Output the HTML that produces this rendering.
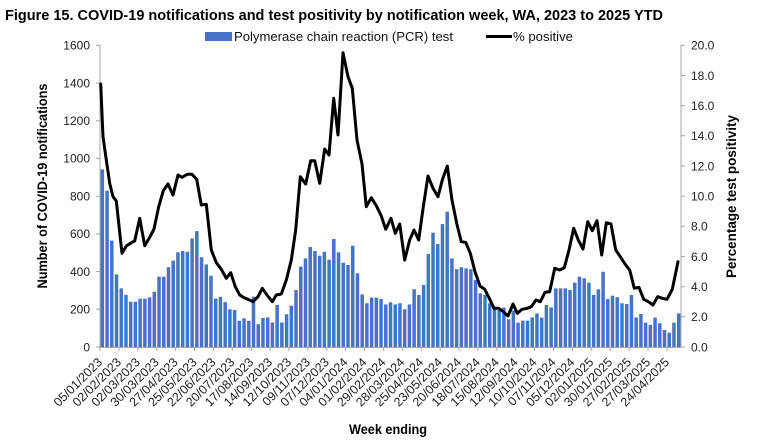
<!DOCTYPE html>
<html><head><meta charset="utf-8"><style>
html,body{margin:0;padding:0;background:#fff;}
svg{display:block;font-family:"Liberation Sans",Arial,sans-serif;}
</style></head><body>
<svg width="780" height="440" viewBox="0 0 780 440" xmlns="http://www.w3.org/2000/svg">
<rect width="780" height="440" fill="#fff"/>
<text x="5" y="20" font-size="14.5" font-weight="bold" textLength="658" lengthAdjust="spacingAndGlyphs" fill="#000">Figure 15. COVID-19 notifications and test positivity by notification week, WA, 2023 to 2025 YTD</text>
<!-- legend -->
<rect x="205" y="32" width="27" height="9" fill="#4673c6"/>
<text x="234" y="41" font-size="13" textLength="219" lengthAdjust="spacingAndGlyphs" fill="#111">Polymerase chain reaction (PCR) test</text>
<line x1="486" y1="36.5" x2="512" y2="36.5" stroke="#000" stroke-width="3"/>
<text x="513" y="41" font-size="13" textLength="60" lengthAdjust="spacingAndGlyphs" fill="#111">% positive</text>
<!-- bars -->
<g transform="translate(100.6,347) scale(4.724,-0.18856)" fill="#4673c6">
<rect x="0" y="0" width="0.74" height="942"/><rect x="1" y="0" width="0.74" height="829"/><rect x="2" y="0" width="0.74" height="564"/><rect x="3" y="0" width="0.74" height="385"/><rect x="4" y="0" width="0.74" height="311"/><rect x="5" y="0" width="0.74" height="276"/><rect x="6" y="0" width="0.74" height="240"/><rect x="7" y="0" width="0.74" height="240"/><rect x="8" y="0" width="0.74" height="256"/><rect x="9" y="0" width="0.74" height="256"/>
<rect x="10" y="0" width="0.74" height="263"/><rect x="11" y="0" width="0.74" height="293"/><rect x="12" y="0" width="0.74" height="373"/><rect x="13" y="0" width="0.74" height="373"/><rect x="14" y="0" width="0.74" height="423"/><rect x="15" y="0" width="0.74" height="458"/><rect x="16" y="0" width="0.74" height="502"/><rect x="17" y="0" width="0.74" height="509"/><rect x="18" y="0" width="0.74" height="505"/><rect x="19" y="0" width="0.74" height="576"/>
<rect x="20" y="0" width="0.74" height="615"/><rect x="21" y="0" width="0.74" height="476"/><rect x="22" y="0" width="0.74" height="438"/><rect x="23" y="0" width="0.74" height="378"/><rect x="24" y="0" width="0.74" height="257"/><rect x="25" y="0" width="0.74" height="266"/><rect x="26" y="0" width="0.74" height="238"/><rect x="27" y="0" width="0.74" height="200"/><rect x="28" y="0" width="0.74" height="196"/><rect x="29" y="0" width="0.74" height="139"/>
<rect x="30" y="0" width="0.74" height="152"/><rect x="31" y="0" width="0.74" height="139"/><rect x="32" y="0" width="0.74" height="267"/><rect x="33" y="0" width="0.74" height="121"/><rect x="34" y="0" width="0.74" height="154"/><rect x="35" y="0" width="0.74" height="157"/><rect x="36" y="0" width="0.74" height="130"/><rect x="37" y="0" width="0.74" height="223"/><rect x="38" y="0" width="0.74" height="130"/><rect x="39" y="0" width="0.74" height="174"/>
<rect x="40" y="0" width="0.74" height="219"/><rect x="41" y="0" width="0.74" height="302"/><rect x="42" y="0" width="0.74" height="426"/><rect x="43" y="0" width="0.74" height="470"/><rect x="44" y="0" width="0.74" height="530"/><rect x="45" y="0" width="0.74" height="509"/><rect x="46" y="0" width="0.74" height="484"/><rect x="47" y="0" width="0.74" height="505"/><rect x="48" y="0" width="0.74" height="463"/><rect x="49" y="0" width="0.74" height="573"/>
<rect x="50" y="0" width="0.74" height="502"/><rect x="51" y="0" width="0.74" height="447"/><rect x="52" y="0" width="0.74" height="435"/><rect x="53" y="0" width="0.74" height="537"/><rect x="54" y="0" width="0.74" height="391"/><rect x="55" y="0" width="0.74" height="279"/><rect x="56" y="0" width="0.74" height="232"/><rect x="57" y="0" width="0.74" height="262"/><rect x="58" y="0" width="0.74" height="262"/><rect x="59" y="0" width="0.74" height="255"/>
<rect x="60" y="0" width="0.74" height="226"/><rect x="61" y="0" width="0.74" height="237"/><rect x="62" y="0" width="0.74" height="226"/><rect x="63" y="0" width="0.74" height="232"/><rect x="64" y="0" width="0.74" height="200"/><rect x="65" y="0" width="0.74" height="226"/><rect x="66" y="0" width="0.74" height="306"/><rect x="67" y="0" width="0.74" height="276"/><rect x="68" y="0" width="0.74" height="329"/><rect x="69" y="0" width="0.74" height="493"/>
<rect x="70" y="0" width="0.74" height="606"/><rect x="71" y="0" width="0.74" height="546"/><rect x="72" y="0" width="0.74" height="652"/><rect x="73" y="0" width="0.74" height="718"/><rect x="74" y="0" width="0.74" height="470"/><rect x="75" y="0" width="0.74" height="413"/><rect x="76" y="0" width="0.74" height="423"/><rect x="77" y="0" width="0.74" height="417"/><rect x="78" y="0" width="0.74" height="412"/><rect x="79" y="0" width="0.74" height="355"/>
<rect x="80" y="0" width="0.74" height="285"/><rect x="81" y="0" width="0.74" height="276"/><rect x="82" y="0" width="0.74" height="232"/><rect x="83" y="0" width="0.74" height="200"/><rect x="84" y="0" width="0.74" height="196"/><rect x="85" y="0" width="0.74" height="209"/><rect x="86" y="0" width="0.74" height="147"/><rect x="87" y="0" width="0.74" height="193"/><rect x="88" y="0" width="0.74" height="129"/><rect x="89" y="0" width="0.74" height="140"/>
<rect x="90" y="0" width="0.74" height="140"/><rect x="91" y="0" width="0.74" height="157"/><rect x="92" y="0" width="0.74" height="178"/><rect x="93" y="0" width="0.74" height="156"/><rect x="94" y="0" width="0.74" height="223"/><rect x="95" y="0" width="0.74" height="210"/><rect x="96" y="0" width="0.74" height="311"/><rect x="97" y="0" width="0.74" height="311"/><rect x="98" y="0" width="0.74" height="311"/><rect x="99" y="0" width="0.74" height="302"/>
<rect x="100" y="0" width="0.74" height="341"/><rect x="101" y="0" width="0.74" height="373"/><rect x="102" y="0" width="0.74" height="364"/><rect x="103" y="0" width="0.74" height="341"/><rect x="104" y="0" width="0.74" height="276"/><rect x="105" y="0" width="0.74" height="306"/><rect x="106" y="0" width="0.74" height="399"/><rect x="107" y="0" width="0.74" height="255"/><rect x="108" y="0" width="0.74" height="272"/><rect x="109" y="0" width="0.74" height="264"/>
<rect x="110" y="0" width="0.74" height="232"/><rect x="111" y="0" width="0.74" height="228"/><rect x="112" y="0" width="0.74" height="276"/><rect x="113" y="0" width="0.74" height="157"/><rect x="114" y="0" width="0.74" height="175"/><rect x="115" y="0" width="0.74" height="129"/><rect x="116" y="0" width="0.74" height="117"/><rect x="117" y="0" width="0.74" height="156"/><rect x="118" y="0" width="0.74" height="126"/><rect x="119" y="0" width="0.74" height="90"/>
<rect x="120" y="0" width="0.74" height="76"/><rect x="121" y="0" width="0.74" height="129"/><rect x="122" y="0" width="0.74" height="178"/>
</g>
<!-- axes -->
<g stroke="#a6a6a6" stroke-width="1" fill="none">
<line x1="100" y1="45" x2="100" y2="347.5"/>
<line x1="681" y1="45" x2="681" y2="347.5"/>
<line x1="100" y1="347.5" x2="681" y2="347.5"/>
<path d="M96 45.3H100M96 83H100M96 120.7H100M96 158.4H100M96 196.2H100M96 233.9H100M96 271.6H100M96 309.3H100M96 347H100"/>
<path d="M681 45.3H685M681 75.5H685M681 105.6H685M681 135.8H685M681 166H685M681 196.2H685M681 226.3H685M681 256.5H685M681 286.7H685M681 316.8H685M681 347H685"/>
<path d="M100 347V351M118.9 347V351M137.8 347V351M156.7 347V351M175.6 347V351M194.5 347V351M213.4 347V351M232.3 347V351M251.2 347V351M270.1 347V351M289 347V351M307.9 347V351M326.8 347V351M345.6 347V351M364.5 347V351M383.4 347V351M402.3 347V351M421.2 347V351M440.1 347V351M459 347V351M477.9 347V351M496.8 347V351M515.7 347V351M534.6 347V351M553.5 347V351M572.4 347V351M591.3 347V351M610.2 347V351M629.1 347V351M648 347V351M666.9 347V351"/>
</g>
<!-- line -->
<polyline fill="none" stroke="#000" stroke-width="3" stroke-linejoin="round" stroke-linecap="round" points="100.7,84 103,136.7 106.3,160 109.7,183.3 113,196.7 116.3,201 122,253.3 126.3,246 131.3,242.7 134.7,241 139.7,218.3 144.7,245.7 149.7,237.3 154,229 158.7,206.7 163.3,190.7 168,184 173,195 178,175 182,177.3 187.3,174.3 192,174.3 196.7,179.3 201.3,205 206.3,204.3 211.3,250 216.3,262.7 221.3,269.3 226.3,278.3 230.7,272.7 235.3,286.7 239.7,295 244,297.7 248,299.3 253,301.7 258,296.7 262.3,288.3 267,295 272.3,301.7 276.3,295 281.3,294 286.3,280 291.3,260 295.7,230 300.3,176.7 305.7,184 310.7,160.7 314.7,160.7 319.7,183.3 324.7,149 329,155 333.7,98.3 338,135 343,52.7 348,76.7 352.3,88.3 357,140 362,164 366.3,206.7 371.3,197.7 376.3,205.7 381.3,216 385.7,229.3 391,218.3 395.3,233.3 399.7,224 404.7,260 409.7,240 414,230 418.7,240 423.3,206.7 428,176 433,188.3 438,196.7 442.3,180 447.3,166 452,200 456.7,223.3 461.3,241.7 465.7,242.3 470.3,253.3 475,271.7 480,286 484.7,289.3 489.3,298.3 494,308.3 498.7,308.3 503.3,311.7 508,316 513,304 517.3,313.3 522,309.3 527.3,308.3 531.3,306.7 536,300 540.3,301.7 545,292.3 549.7,291.7 554.7,268.3 559.7,270 564.3,267.7 569,250 573.7,228.3 578.3,240 583,249 587.7,221.7 592.3,230.7 597,220.7 601.7,255 606.3,222.7 611,224 615.7,250 620.3,256.7 625,264 629.7,270 634.3,288.3 639,287.3 643.7,299.3 648.3,301.7 653,305 657.7,296.7 662.3,298.3 667,299.3 672.3,289.3 678,261.7"/>
<!-- left tick labels -->
<g font-size="12" fill="#222" text-anchor="end">
<text x="90" y="49.5">1600</text><text x="90" y="87.3">1400</text><text x="90" y="125">1200</text><text x="90" y="162.7">1000</text><text x="90" y="200.5">800</text><text x="90" y="238.2">600</text><text x="90" y="275.9">400</text><text x="90" y="313.6">200</text><text x="90" y="351.3">0</text>
</g>
<g font-size="12" fill="#222">
<text x="691" y="49.6">20.0</text><text x="691" y="79.8">18.0</text><text x="691" y="109.9">16.0</text><text x="691" y="140.1">14.0</text><text x="691" y="170.3">12.0</text><text x="691" y="200.5">10.0</text><text x="691" y="230.6">8.0</text><text x="691" y="260.8">6.0</text><text x="691" y="291">4.0</text><text x="691" y="321.1">2.0</text><text x="691" y="351.3">0.0</text>
</g>
<!-- axis titles -->
<text transform="translate(47,186) rotate(-90)" text-anchor="middle" font-size="13.5" font-weight="bold" textLength="205" lengthAdjust="spacingAndGlyphs" fill="#000">Number of COVID-19 notifications</text>
<text transform="translate(736,196.5) rotate(-90)" text-anchor="middle" font-size="13.5" font-weight="bold" textLength="163" lengthAdjust="spacingAndGlyphs" fill="#000">Percentage test positivity</text>
<text x="349" y="434" font-size="13.5" font-weight="bold" textLength="78" lengthAdjust="spacingAndGlyphs" fill="#000">Week ending</text>
<!-- x tick labels -->
<g font-size="12.5" fill="#222" text-anchor="end">
<text transform="translate(103,363) rotate(-45)">05/01/2023</text>
<text transform="translate(121.9,363) rotate(-45)">02/02/2023</text>
<text transform="translate(140.8,363) rotate(-45)">02/03/2023</text>
<text transform="translate(159.7,363) rotate(-45)">30/03/2023</text>
<text transform="translate(178.6,363) rotate(-45)">27/04/2023</text>
<text transform="translate(197.5,363) rotate(-45)">25/05/2023</text>
<text transform="translate(216.4,363) rotate(-45)">22/06/2023</text>
<text transform="translate(235.3,363) rotate(-45)">20/07/2023</text>
<text transform="translate(254.2,363) rotate(-45)">17/08/2023</text>
<text transform="translate(273.1,363) rotate(-45)">14/09/2023</text>
<text transform="translate(292,363) rotate(-45)">12/10/2023</text>
<text transform="translate(310.9,363) rotate(-45)">09/11/2023</text>
<text transform="translate(329.8,363) rotate(-45)">07/12/2023</text>
<text transform="translate(348.6,363) rotate(-45)">04/01/2024</text>
<text transform="translate(367.5,363) rotate(-45)">01/02/2024</text>
<text transform="translate(386.4,363) rotate(-45)">29/02/2024</text>
<text transform="translate(405.3,363) rotate(-45)">28/03/2024</text>
<text transform="translate(424.2,363) rotate(-45)">25/04/2024</text>
<text transform="translate(443.1,363) rotate(-45)">23/05/2024</text>
<text transform="translate(462,363) rotate(-45)">20/06/2024</text>
<text transform="translate(480.9,363) rotate(-45)">18/07/2024</text>
<text transform="translate(499.8,363) rotate(-45)">15/08/2024</text>
<text transform="translate(518.7,363) rotate(-45)">12/09/2024</text>
<text transform="translate(537.6,363) rotate(-45)">10/10/2024</text>
<text transform="translate(556.5,363) rotate(-45)">07/11/2024</text>
<text transform="translate(575.4,363) rotate(-45)">05/12/2024</text>
<text transform="translate(594.3,363) rotate(-45)">02/01/2025</text>
<text transform="translate(613.2,363) rotate(-45)">30/01/2025</text>
<text transform="translate(632.1,363) rotate(-45)">27/02/2025</text>
<text transform="translate(651,363) rotate(-45)">27/03/2025</text>
<text transform="translate(669.9,363) rotate(-45)">24/04/2025</text>
</g>
</svg>
</body></html>
